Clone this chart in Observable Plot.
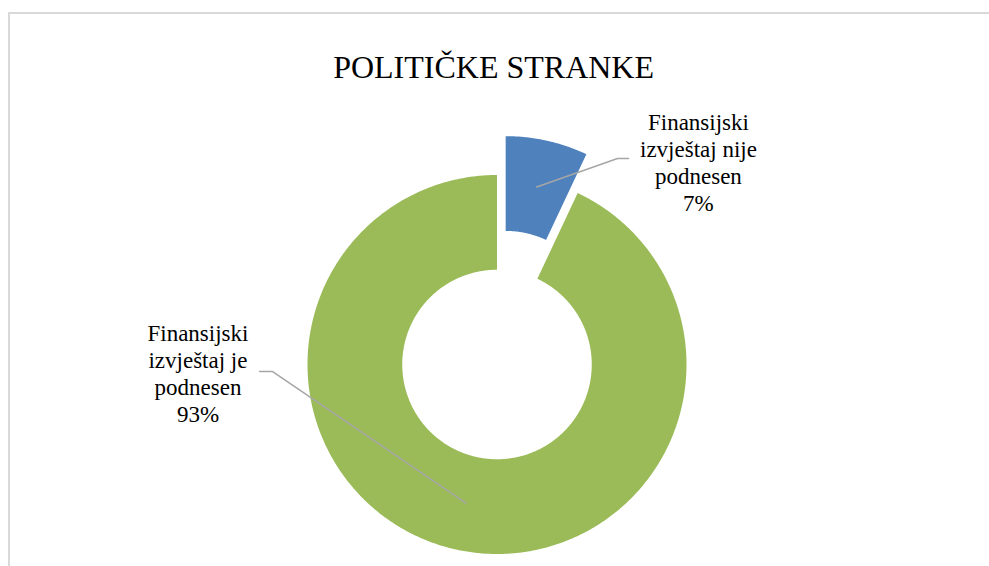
<!DOCTYPE html>
<html><head><meta charset="utf-8">
<script src="https://cdn.jsdelivr.net/npm/d3@7"></script>
<script src="https://cdn.jsdelivr.net/npm/@observablehq/plot@0.6"></script>
<style>
body{margin:0;background:#fff;}
#wrap{position:relative;width:989px;height:566px;overflow:hidden;}
#border{position:absolute;left:8px;top:12px;right:-4px;bottom:-4px;border-top:2px solid #d9d9d9;border-left:2px solid #d9d9d9;pointer-events:none;}
</style>
</head><body>
<div id="wrap"><div id="chart"></div><div id="border"></div></div>
<script>
// ---- data ----
const title = "POLITIČKE STRANKE";
const categories = ["nije podnesen", "je podnesen"];
const labelLines = [["Finansijski", "izvještaj nije", "podnesen"], ["Finansijski", "izvještaj je", "podnesen"]];
const shares = [7, 93];
const colors = ["#4f81bd", "#9bbb59"];
const explode = [0.21, 0];
const innerRatio = 0.5;

// ---- layout (data units of the unit-radius donut) ----
const labelPos = [[1.063, 1.071], [-1.578, -0.045]];
const leaderElbow = [[0.636, 1.087], [-1.184, -0.037]];
const leaderEnd = [[0.694, 1.087], [-1.253, -0.037]];
const titlePos = [-0.018, 1.567];
const serif = "Liberation Serif";

// ---- build slice polygons ----
const total = d3.sum(shares);
let acc = 0;
const slices = shares.map((v, i) => {
  const a0 = acc / total * 2 * Math.PI;
  acc += v;
  const a1 = acc / total * 2 * Math.PI;
  const mid = (a0 + a1) / 2;
  const ox = explode[i] * Math.sin(mid), oy = explode[i] * Math.cos(mid);
  return {i, cat: categories[i], a0, a1, mid, ox, oy};
});
const polyRows = [];
for (const s of slices) {
  const n = Math.max(2, Math.ceil((s.a1 - s.a0) / (Math.PI / 360)));
  for (let k = 0; k <= n; k++) {
    const a = s.a0 + (s.a1 - s.a0) * k / n;
    polyRows.push({cat: s.cat, x: s.ox + Math.sin(a), y: s.oy + Math.cos(a)});
  }
  for (let k = n; k >= 0; k--) {
    const a = s.a0 + (s.a1 - s.a0) * k / n;
    polyRows.push({cat: s.cat, x: s.ox + innerRatio * Math.sin(a), y: s.oy + innerRatio * Math.cos(a)});
  }
}
const leaderRows = [];
for (const s of slices) {
  const r = (1 + innerRatio) / 2;
  const start = {x: s.ox + r * Math.sin(s.mid), y: s.oy + r * Math.cos(s.mid)};
  leaderRows.push({cat: s.cat, ...start});
  leaderRows.push({cat: s.cat, x: leaderElbow[s.i][0], y: leaderElbow[s.i][1]});
  leaderRows.push({cat: s.cat, x: leaderEnd[s.i][0], y: leaderEnd[s.i][1]});
}
const labels = slices.map(s => ({
  x: labelPos[s.i][0], y: labelPos[s.i][1],
  text: labelLines[s.i].join("\n") + "\n" + shares[s.i] + "%"
}));

const chart = Plot.plot({
  width: 989, height: 566, margin: 0,
  x: {domain: [-1, 1], range: [307, 686], axis: null},
  y: {domain: [-1, 1], range: [553.5, 174.5], axis: null},
  color: {domain: categories, range: colors},
  style: {background: "#fff"},
  marks: [
    Plot.line(polyRows, {x: "x", y: "y", z: "cat", fill: "cat", stroke: "none", curve: "linear-closed"}),
    Plot.line(leaderRows, {x: "x", y: "y", z: "cat", stroke: "#a6a6a6", strokeWidth: 1.5}),
    Plot.text(labels, {x: "x", y: "y", text: "text", fontSize: 23, fontFamily: serif, lineHeight: 1.17, fill: "#000", textAnchor: "middle"}),
    Plot.text([{x: titlePos[0], y: titlePos[1], t: title}], {x: "x", y: "y", text: "t", fontSize: 32, fontFamily: serif, fill: "#000", textAnchor: "middle"})
  ]
});
document.getElementById("chart").appendChild(chart);
</script>
</body></html>
